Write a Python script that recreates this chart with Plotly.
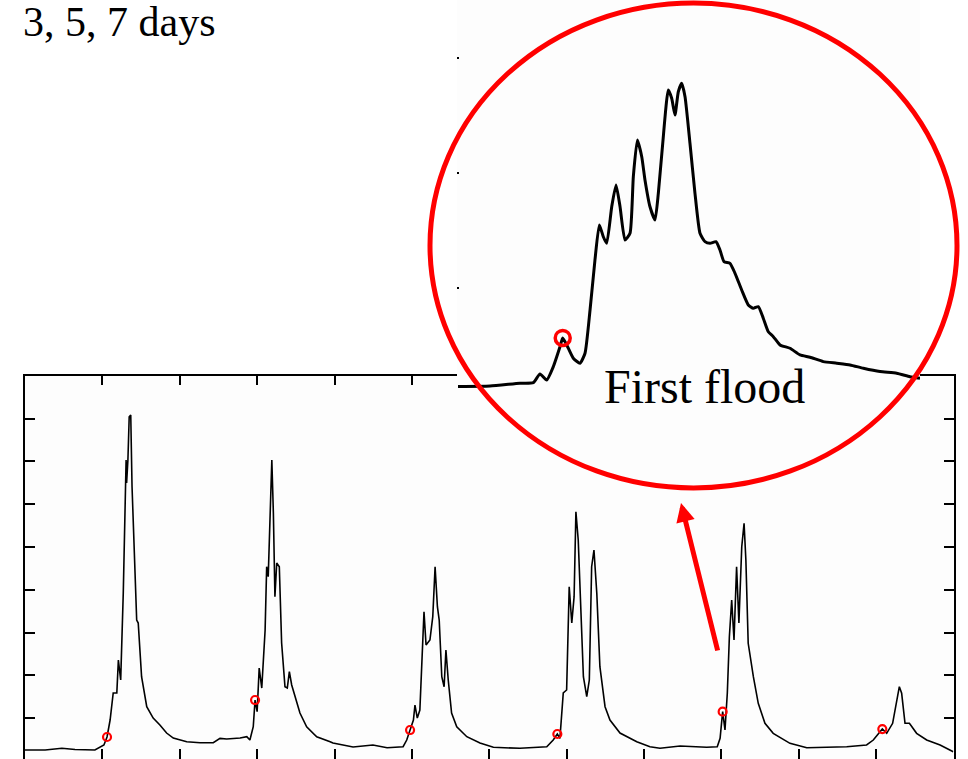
import plotly.graph_objects as go

W, H = 968, 759

# ---- main hydrograph (day of year, discharge) ----
main_days = [0, 7.8, 14.3, 19.4, 27.1, 29.1, 30.6, 31.8, 33.0, 34.2, 35.6, 36.2, 37.1, 38.1, 39.2, 39.4,
             39.9, 40.4, 41.0, 41.5, 42.6, 43.3, 43.9, 45.2, 47.2, 49.7, 52.3, 54.9, 57.5, 62.7, 67.9,
             73.0, 75.6, 78.2, 83.4, 86.0, 87.2, 88.5, 89.2, 90.0, 90.8, 91.8, 93.1, 93.7, 94.3, 95.0,
             95.7, 96.3, 96.9, 97.6, 98.6, 99.5, 100.8, 101.7, 102.5, 103.4, 104.7, 106.6, 109.2, 113.1,
             118.3, 119.4, 127.2, 134.9, 140.4, 146.6, 148.0, 149.3, 150.6, 151.2, 152.1, 153.1, 153.8,
             154.7, 155.5, 157.0, 158.1, 159.0, 159.9, 160.6, 161.6, 162.5, 163.2, 164.1, 165.4, 167.4,
             171.3, 176.4, 181.6, 191.9, 202.3, 204.8, 206.4, 207.4, 208.7, 210.0, 211.0, 212.0, 212.9,
             213.6, 214.5, 215.2, 216.5, 217.8, 218.8, 219.7, 220.6, 221.7, 222.9, 224.9, 226.8, 230.7,
             237.2, 242.3, 246.2, 254.0, 264.3, 268.4, 269.5, 270.5, 271.4, 272.3, 273.1, 274.0, 274.9,
             275.9, 276.8, 277.9, 278.8, 279.5, 280.4, 282.4, 284.3, 286.9, 290.1, 296.6, 303.1, 310.8,
             318.6, 326.3, 328.9, 332.4, 334.1, 336.4, 337.7, 339.0, 339.9, 341.2, 342.9, 345.7, 349.6,
             354.8, 359.9]
main_flow = [255, 255, 295, 267, 255, 332, 372, 559, 956, 1587, 1587, 2358, 1890, 3923, 7030, 6493,
             7030, 8042, 8082, 6407, 4304, 3292, 3222, 1967, 1267, 1002, 839, 652, 535, 449, 425,
             425, 528, 512, 535, 566, 488, 799, 1423, 1150, 2171, 1703, 3059, 4537, 4304, 5792,
             7030, 5792, 3837, 4624, 4537, 2755, 1734, 1703, 2084, 1774, 1500, 1119, 799, 566,
             449, 418, 325, 372, 309, 332, 488, 722, 956, 1306, 1002, 1189, 2358,
             3486, 2708, 2825, 3369, 4537, 3603, 3292, 1967, 1734, 2591, 1890, 1119, 799,
             566, 418, 318, 295, 332, 488, 629, 528, 1587, 1657, 4070, 3222, 3837,
             5822, 5161, 3993, 1967, 1500, 1890, 4537, 4928, 3916, 2201, 1267, 956, 652,
             449, 332, 295, 348, 318, 332, 528, 1150, 722, 1580, 2902, 3759, 2825,
             4537, 3222, 5005, 5551, 4694, 2748, 1967, 1346, 879, 645, 411, 309, 318,
             332, 372, 488, 745, 645, 879, 1267, 1734, 1580, 879, 879, 645, 488,
             372, 215]

# flood-start points marked on the main hydrograph
mark_days = [31.8, 89.2, 149.3, 206.4, 270.5, 332.4]
mark_flow = [559, 1423, 722, 629, 1150, 745]

# ---- inset: zoom on the first flood ----
inset_t = [0.13, 4.28, 8.16, 9.89, 10.76, 11.62, 12.48, 13.35, 13.70, 14.22, 15.07, 15.94, 16.59,
           17.24, 17.88, 18.44, 18.96, 19.40, 20.05, 20.61, 21.13, 21.77, 22.42, 22.85, 23.37, 23.94,
           24.36, 25.01, 25.66, 26.09, 26.66, 27.38, 27.82, 28.25, 28.68, 29.12, 29.55, 30.19, 30.84,
           31.49, 32.14, 32.79, 33.56, 34.08, 34.60, 35.38, 36.03, 36.89, 37.75, 38.40, 39.05, 39.69,
           40.34, 40.99, 41.86, 43.15, 44.45, 45.75, 47.47, 49.21, 50.93, 52.66, 54.82, 56.98, 58.70,
           60.0]
inset_q = [141, 145, 169, 174, 250, 197, 313, 487, 563, 502, 386, 343, 430,
           806, 1241, 1545, 1443, 1386, 1704, 1893, 1704, 1415, 1473, 1965, 2284, 2139,
           1937, 1704, 1589, 1821, 2256, 2719, 2647, 2502, 2704, 2777, 2661, 2256, 1821,
           1473, 1400, 1386, 1400, 1328, 1226, 1212, 1125, 980, 850, 821, 835, 734,
           617, 574, 502, 473, 415, 395, 357, 343, 328, 299, 270, 256, 226,
           212]
inset_mark_t = [13.70]
inset_mark_q = [563]

title_text = "3, 5, 7 days"
label_text = "First flood"

RED = "#ff0000"
SERIF = "Liberation Serif, Times New Roman, serif"

def px_x(p):
    return p / W

def px_y(p):
    return 1 - p / H

fig = go.Figure()

fig.add_trace(go.Scatter(x=main_days, y=main_flow, mode="lines",
                         line=dict(color="black", width=1.6), xaxis="x", yaxis="y",
                         showlegend=False, hoverinfo="skip"))
fig.add_trace(go.Scatter(x=mark_days, y=mark_flow, mode="markers",
                         marker=dict(symbol="circle-open", size=8, color=RED,
                                     line=dict(width=2.2, color=RED)),
                         xaxis="x", yaxis="y", showlegend=False, hoverinfo="skip"))

fig.add_trace(go.Scatter(x=inset_t, y=inset_q, mode="lines",
                         line=dict(color="black", width=3, shape="spline", smoothing=0.5),
                         xaxis="x2", yaxis="y2", showlegend=False, hoverinfo="skip"))
fig.add_trace(go.Scatter(x=inset_mark_t, y=inset_mark_q, mode="markers",
                         marker=dict(symbol="circle-open", size=15, color=RED,
                                     line=dict(width=3.5, color=RED)),
                         xaxis="x2", yaxis="y2", showlegend=False, hoverinfo="skip"))

main_axis_common = dict(showline=True, linecolor="black", linewidth=1.5, mirror="ticks",
                        ticks="inside", ticklen=10, tickwidth=1.5, tickcolor="black",
                        showticklabels=False, showgrid=False, zeroline=False)

fig.update_layout(
    width=W, height=H, autosize=False,
    margin=dict(l=0, r=0, t=0, b=0),
    paper_bgcolor="white", plot_bgcolor="#fdfdfd",
    xaxis=dict(domain=[px_x(25), px_x(953.5)], range=[0, 360], tick0=0, dtick=30,
               anchor="y", **main_axis_common),
    yaxis=dict(domain=[0, px_y(375.7)], range=[45, 9000], tick0=0, dtick=1000,
               anchor="x", **main_axis_common),
    xaxis2=dict(domain=[px_x(457), px_x(920)], range=[0, 60], anchor="y2",
                showline=False, ticks="", showticklabels=False, showgrid=False, zeroline=False),
    yaxis2=dict(domain=[px_y(390), 1], range=[110, 3502], anchor="x2",
                tickvals=[1000, 2000, 3000], ticks="inside", ticklen=2, tickwidth=2,
                tickcolor="black", showline=False, showticklabels=False,
                showgrid=False, zeroline=False),
    shapes=[dict(type="circle", xref="paper", yref="paper",
                 x0=px_x(430), x1=px_x(957), y0=px_y(488), y1=px_y(3),
                 line=dict(color=RED, width=5), fillcolor="rgba(0,0,0,0)", layer="above")],
    annotations=[
        dict(text=title_text, xref="paper", yref="paper", x=px_x(21), y=px_y(22),
             xanchor="left", yanchor="middle", showarrow=False,
             font=dict(family=SERIF, size=42, color="black")),
        dict(text=label_text, xref="paper", yref="paper", x=px_x(704), y=px_y(386),
             xanchor="center", yanchor="middle", showarrow=False,
             font=dict(family=SERIF, size=48, color="black")),
        dict(text="", xref="paper", yref="paper", x=px_x(681), y=px_y(503),
             axref="pixel", ayref="pixel", ax=37, ay=149, showarrow=True,
             arrowhead=2, arrowsize=0.75, arrowwidth=5, arrowcolor=RED),
    ],
)

fig.write_html("out.html", config={"displayModeBar": False})
